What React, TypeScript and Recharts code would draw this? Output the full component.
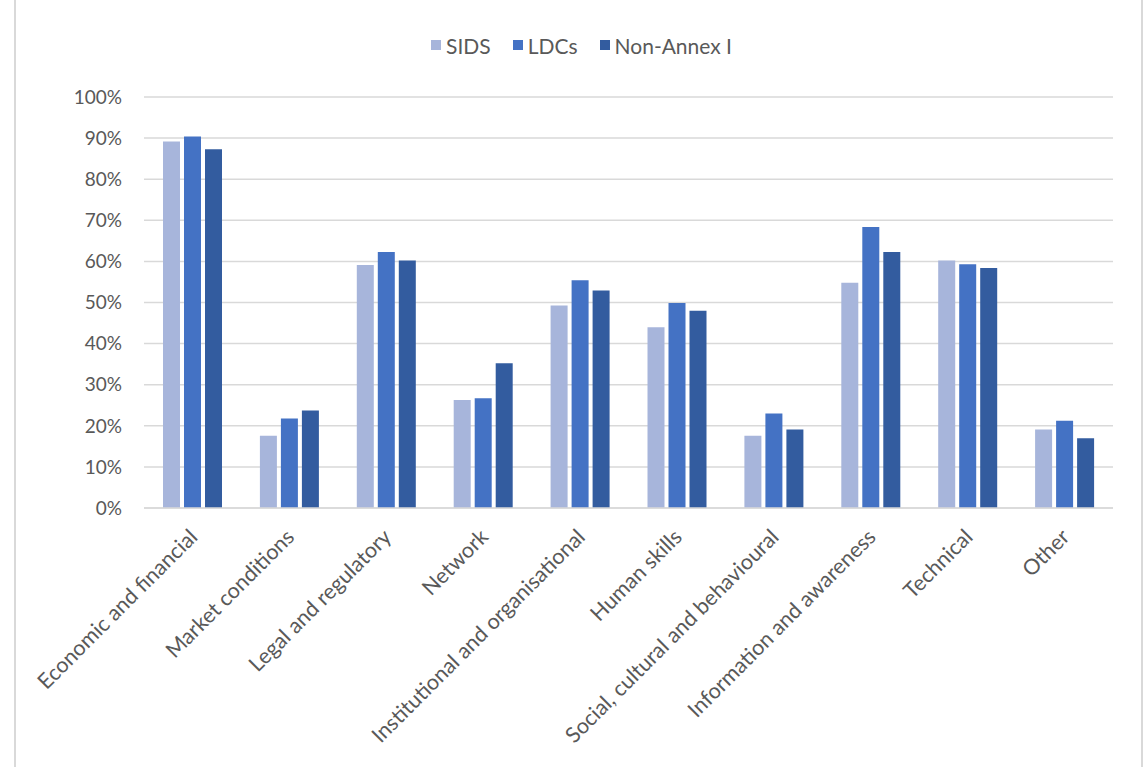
import { BarChart, Bar, XAxis, YAxis, CartesianGrid, Legend } from "recharts";

// categories and values (percent)
const categories = [
  "Economic and financial",
  "Market conditions",
  "Legal and regulatory",
  "Network",
  "Institutional and organisational",
  "Human skills",
  "Social, cultural and behavioural",
  "Information and awareness",
  "Technical",
  "Other",
];
const sids = [89.2, 17.6, 59.1, 26.3, 49.3, 44.0, 17.6, 54.8, 60.2, 19.1];
const ldcs = [90.4, 21.8, 62.3, 26.7, 55.4, 49.9, 23.0, 68.4, 59.3, 21.2];
const nonAnnex = [87.3, 23.7, 60.2, 35.2, 52.9, 48.0, 19.1, 62.3, 58.4, 17.0];
const yTicks = [0, 10, 20, 30, 40, 50, 60, 70, 80, 90, 100];

const seriesNames = ["SIDS", "LDCs", "Non-Annex I"];
const seriesColors = ["#A7B5DB", "#4472C4", "#335C9F"];

const data = categories.map((name, i) => ({
  name,
  SIDS: sids[i],
  LDCs: ldcs[i],
  "Non-Annex I": nonAnnex[i],
}));

const FONT = "Lato, 'Open Sans', sans-serif";
const TEXT = "#595959";

function LegendBox() {
  return (
    <div style={{ height: 77, display: "flex", justifyContent: "center", paddingTop: 13, paddingLeft: 6, boxSizing: "border-box" }}>
      {seriesNames.map((name, i) => (
        <div key={name} style={{ display: "flex", alignItems: "center", margin: "0 11px", height: 24 }}>
          <span style={{ width: 10, height: 10, background: seriesColors[i], marginRight: 5, display: "inline-block" }} />
          <span style={{ fontFamily: FONT, fontSize: 21, color: TEXT }}>{name}</span>
        </div>
      ))}
    </div>
  );
}

function CatTick(props: any) {
  const { x, y, payload } = props;
  return (
    <g transform={`translate(${x + 1},${y + 17}) rotate(-45)`}>
      <text x={0} y={0} dy="0.35em" textAnchor="end" fill={TEXT} fontSize={21.5} fontFamily={FONT}>
        {payload.value}
      </text>
    </g>
  );
}

export default function App() {
  return (
    <div style={{ position: "absolute", left: 0, top: 0, width: 1143, height: 767, background: "#fff" }}>
      <div
        style={{
          position: "absolute",
          left: 14,
          top: 0,
          width: 1125,
          height: 767,
          borderLeft: "2px solid #D9D9D9",
          borderRight: "2px solid #D9D9D9",
        }}
      />
      <div style={{ position: "absolute", left: 0, top: 0 }}>
        <BarChart
          width={1143}
          height={767}
          data={data}
          margin={{ top: 20, right: 30, left: 44, bottom: 0 }}
          barSize={17}
          barGap={4}
        >
          <CartesianGrid vertical={false} stroke="#D9D9D9" strokeWidth={1.5} />
          <Legend verticalAlign="top" content={<LegendBox />} />
          <XAxis
            dataKey="name"
            interval={0}
            height={259}
            tickLine={false}
            axisLine={{ stroke: "#D9D9D9", strokeWidth: 1.5 }}
            tick={<CatTick />}
          />
          <YAxis
            width={100}
            domain={[0, 100]}
            ticks={yTicks}
            axisLine={false}
            tickLine={false}
            tickSize={0}
            tickMargin={22}
            tickFormatter={(v: number) => `${v}%`}
            tick={{ fill: TEXT, fontSize: 19, fontFamily: FONT }}
          />
          {seriesNames.map((name, i) => (
            <Bar key={name} dataKey={name} fill={seriesColors[i]} isAnimationActive={false} />
          ))}
        </BarChart>
      </div>
    </div>
  );
}
